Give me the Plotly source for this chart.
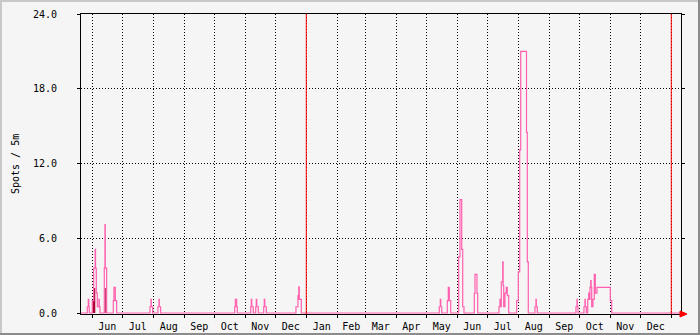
import plotly.graph_objects as go

# ---- data ----
x_start = "2022-05-20 17:00"
x_end = "2024-01-10 17:00"

pink_times = [
    "2022-05-20 17:00", "2022-05-27 00:00", "2022-05-28 00:00", "2022-05-28 12:00", "2022-05-29 00:00",
    "2022-06-01 00:00", "2022-06-02 09:00", "2022-06-03 20:00", "2022-06-04 06:00", "2022-06-05 00:00",
    "2022-06-06 00:00", "2022-06-07 16:00", "2022-06-08 00:00", "2022-06-08 16:00",
    "2022-06-13 00:00", "2022-06-13 16:00", "2022-06-14 00:00", "2022-06-15 08:00",
    "2022-06-22 00:00", "2022-06-22 16:00", "2022-06-24 00:00", "2022-06-25 08:00",
    "2022-07-28 16:00", "2022-07-29 16:00", "2022-07-30 00:00", "2022-07-31 08:00",
    "2022-08-05 16:00", "2022-08-06 16:00", "2022-08-07 00:00", "2022-08-08 08:00",
    "2022-10-21 10:00", "2022-10-22 00:00", "2022-10-23 08:00", "2022-10-24 00:00",
    "2022-11-06 10:00", "2022-11-07 00:00", "2022-11-07 12:00", "2022-11-09 00:00",
    "2022-11-11 10:00", "2022-11-12 00:00", "2022-11-12 12:00", "2022-11-14 00:00",
    "2022-11-19 10:00", "2022-11-20 00:00", "2022-11-20 12:00", "2022-11-22 00:00",
    "2022-12-21 16:00", "2022-12-23 16:00", "2022-12-24 00:00", "2022-12-24 12:00", "2022-12-25 00:00", "2022-12-27 00:00",
    "2023-05-14 00:00", "2023-05-15 00:00", "2023-05-15 12:00", "2023-05-16 10:00",
    "2023-05-22 00:00", "2023-05-23 00:00", "2023-05-24 00:00", "2023-05-25 10:00",
    "2023-06-02 10:00", "2023-06-03 16:00", "2023-06-05 10:00", "2023-06-06 10:00", "2023-06-07 16:00",
    "2023-06-18 00:00", "2023-06-18 16:00", "2023-06-20 16:00", "2023-06-21 10:00",
    "2023-07-12 16:00", "2023-07-13 16:00", "2023-07-14 00:00", "2023-07-15 00:00", "2023-07-16 10:00",
    "2023-07-16 20:00", "2023-07-17 10:00", "2023-07-18 16:00", "2023-07-20 00:00", "2023-07-21 00:00", "2023-07-22 10:00",
    "2023-07-30 10:00", "2023-08-01 00:00", "2023-08-02 10:00", "2023-08-03 10:00", "2023-08-09 05:00",
    "2023-08-10 00:00", "2023-08-11 00:00",
    "2023-08-17 16:00", "2023-08-18 16:00", "2023-08-19 00:00", "2023-08-20 00:00",
    "2023-09-27 16:00", "2023-09-28 16:00", "2023-09-29 00:00", "2023-09-29 16:00",
    "2023-10-05 16:00", "2023-10-06 16:00", "2023-10-07 00:00", "2023-10-08 00:00",
    "2023-10-09 10:00", "2023-10-10 10:00", "2023-10-10 20:00", "2023-10-11 16:00", "2023-10-12 10:00",
    "2023-10-12 20:00", "2023-10-13 10:00", "2023-10-14 16:00", "2023-10-16 00:00", "2023-10-17 00:00",
    "2023-10-18 16:00", "2023-11-01 00:00", "2023-11-02 10:00",
    "2024-01-10 17:00",
]
pink_values = [
    0, 0.5, 1.1, 0.5, 0,
    1.0, 3.6, 5.1, 3.6, 1.6,
    0.5, 1.1, 0.5, 0,
    3.6, 7.1, 3.6, 0,
    1.0, 2.05, 1.0, 0,
    0.5, 1.1, 0.5, 0,
    0.5, 1.1, 0.5, 0,
    0.5, 1.1, 0.5, 0,
    0.5, 1.1, 0.5, 0,
    0.5, 1.1, 0.5, 0,
    0.5, 1.1, 0.5, 0,
    0.5, 1.4, 1.1, 2.1, 1.1, 0,
    0.5, 1.1, 0.5, 0,
    1.0, 2.05, 1.0, 0,
    4.5, 9.1, 5.1, 0.5, 0,
    1.57, 3.1, 1.57, 0,
    0.5, 1.1, 0.5, 2.5, 4.1,
    2.2, 0.5, 1.6, 2.05, 1.4, 0,
    1.0, 3.3, 13.1, 21.0, 14.5,
    4.1, 0,
    0.5, 1.1, 0.5, 0,
    0.5, 1.1, 0.5, 0,
    0.5, 1.1, 0.5, 0,
    1.1, 1.6, 1.1, 2.05, 2.6,
    2.05, 0.5, 1.1, 3.1, 1.6,
    2.05, 1.0, 0,
    0,
]

dark_times = ["2022-05-20 17:00", "2022-06-01 10:00", "2022-06-02 10:00", "2022-06-04 00:00",
              "2022-06-13 10:00", "2022-06-14 10:00", "2024-01-10 17:00"]
dark_values = [0, 1.0, 2.0, 0, 2.0, 0, 0]

vrule_dates = ["2023-01-01", "2024-01-01"]

y_title = "Spots / 5m"

# ---- figure ----
FONT = "DejaVu Sans Mono"
BG = "#f5f5f5"
L, R, T, B = 81, 19, 14, 21
W, H = 700, 335
PW, PH = W - L - R, H - T - B


def px(xp):
    return (xp - L) / PW


def py(yp):
    return (H - B - yp) / PH


fig = go.Figure()
fig.add_trace(go.Scatter(x=dark_times, y=dark_values, mode="lines", line=dict(shape="hv", width=0),
                         fill="tozeroy", fillcolor="#b00034", hoverinfo="skip", showlegend=False))
fig.add_trace(go.Scatter(x=pink_times, y=pink_values, mode="lines",
                         line=dict(shape="hv", width=1.2, color="#ff5fae"), showlegend=False))

shapes = []
for d in vrule_dates:
    shapes.append(dict(type="line", xref="x", yref="paper", x0=d, x1=d, y0=0, y1=1,
                       line=dict(color="#ff0000", width=1)))
# frame border (3D style)
shapes += [
    dict(type="rect", xref="paper", yref="paper", x0=px(0), x1=px(W), y0=py(0), y1=py(2),
         line=dict(width=0), fillcolor="#c8c8c8"),
    dict(type="rect", xref="paper", yref="paper", x0=px(0), x1=px(2), y0=py(0), y1=py(H),
         line=dict(width=0), fillcolor="#c8c8c8"),
    dict(type="rect", xref="paper", yref="paper", x0=px(0), x1=px(W), y0=py(H - 2), y1=py(H),
         line=dict(width=0), fillcolor="#8c8c8c"),
    dict(type="rect", xref="paper", yref="paper", x0=px(W - 2), x1=px(W), y0=py(0), y1=py(H),
         line=dict(width=0), fillcolor="#8c8c8c"),
]
# axis arrow
shapes.append(dict(type="path", xref="paper", yref="paper", xsizemode="pixel", ysizemode="pixel",
                   xanchor=1, yanchor=0, path="M -1,3 L 6,0 L -1,-3 Z",
                   fillcolor="#ff0000", line=dict(color="#ff0000", width=1)))

fig.update_layout(
    width=W, height=H,
    margin=dict(l=L, r=R, t=T, b=B, pad=0, autoexpand=False),
    paper_bgcolor=BG, plot_bgcolor=BG,
    font=dict(family=FONT, size=10, color="#000000"),
    shapes=shapes,
    annotations=[dict(text=y_title, xref="paper", yref="paper", x=px(15), y=0.5,
                      xanchor="center", yanchor="middle", textangle=-90, showarrow=False,
                      font=dict(family=FONT, size=10, color="#000000"))],
)
fig.update_xaxes(
    type="date", range=[x_start, x_end], automargin=False,
    dtick="M1", tick0="2022-01-01", tickformat="%b", ticklabelmode="period",
    showgrid=True, gridcolor="#000000", gridwidth=1, griddash="1px,2px",
    showline=True, linecolor="#000000", linewidth=1, mirror=True,
    ticks="outside", ticklen=3, tickcolor="#000000", tickwidth=1,
    zeroline=False, tickfont=dict(family=FONT, size=10, color="#000000"),
)
fig.update_yaxes(
    range=[-0.08, 24], tickvals=[0, 6, 12, 18, 24], tickformat=".1f", automargin=False,
    showgrid=True, gridcolor="#000000", gridwidth=1, griddash="1px,2px",
    showline=True, linecolor="#000000", linewidth=1, mirror="ticks",
    ticks="outside", ticklen=3, tickcolor="#000000", tickwidth=1,
    zeroline=False, ticklabelstandoff=18,
    tickfont=dict(family=FONT, size=10, color="#000000"),
)

fig.write_html("out.html")
